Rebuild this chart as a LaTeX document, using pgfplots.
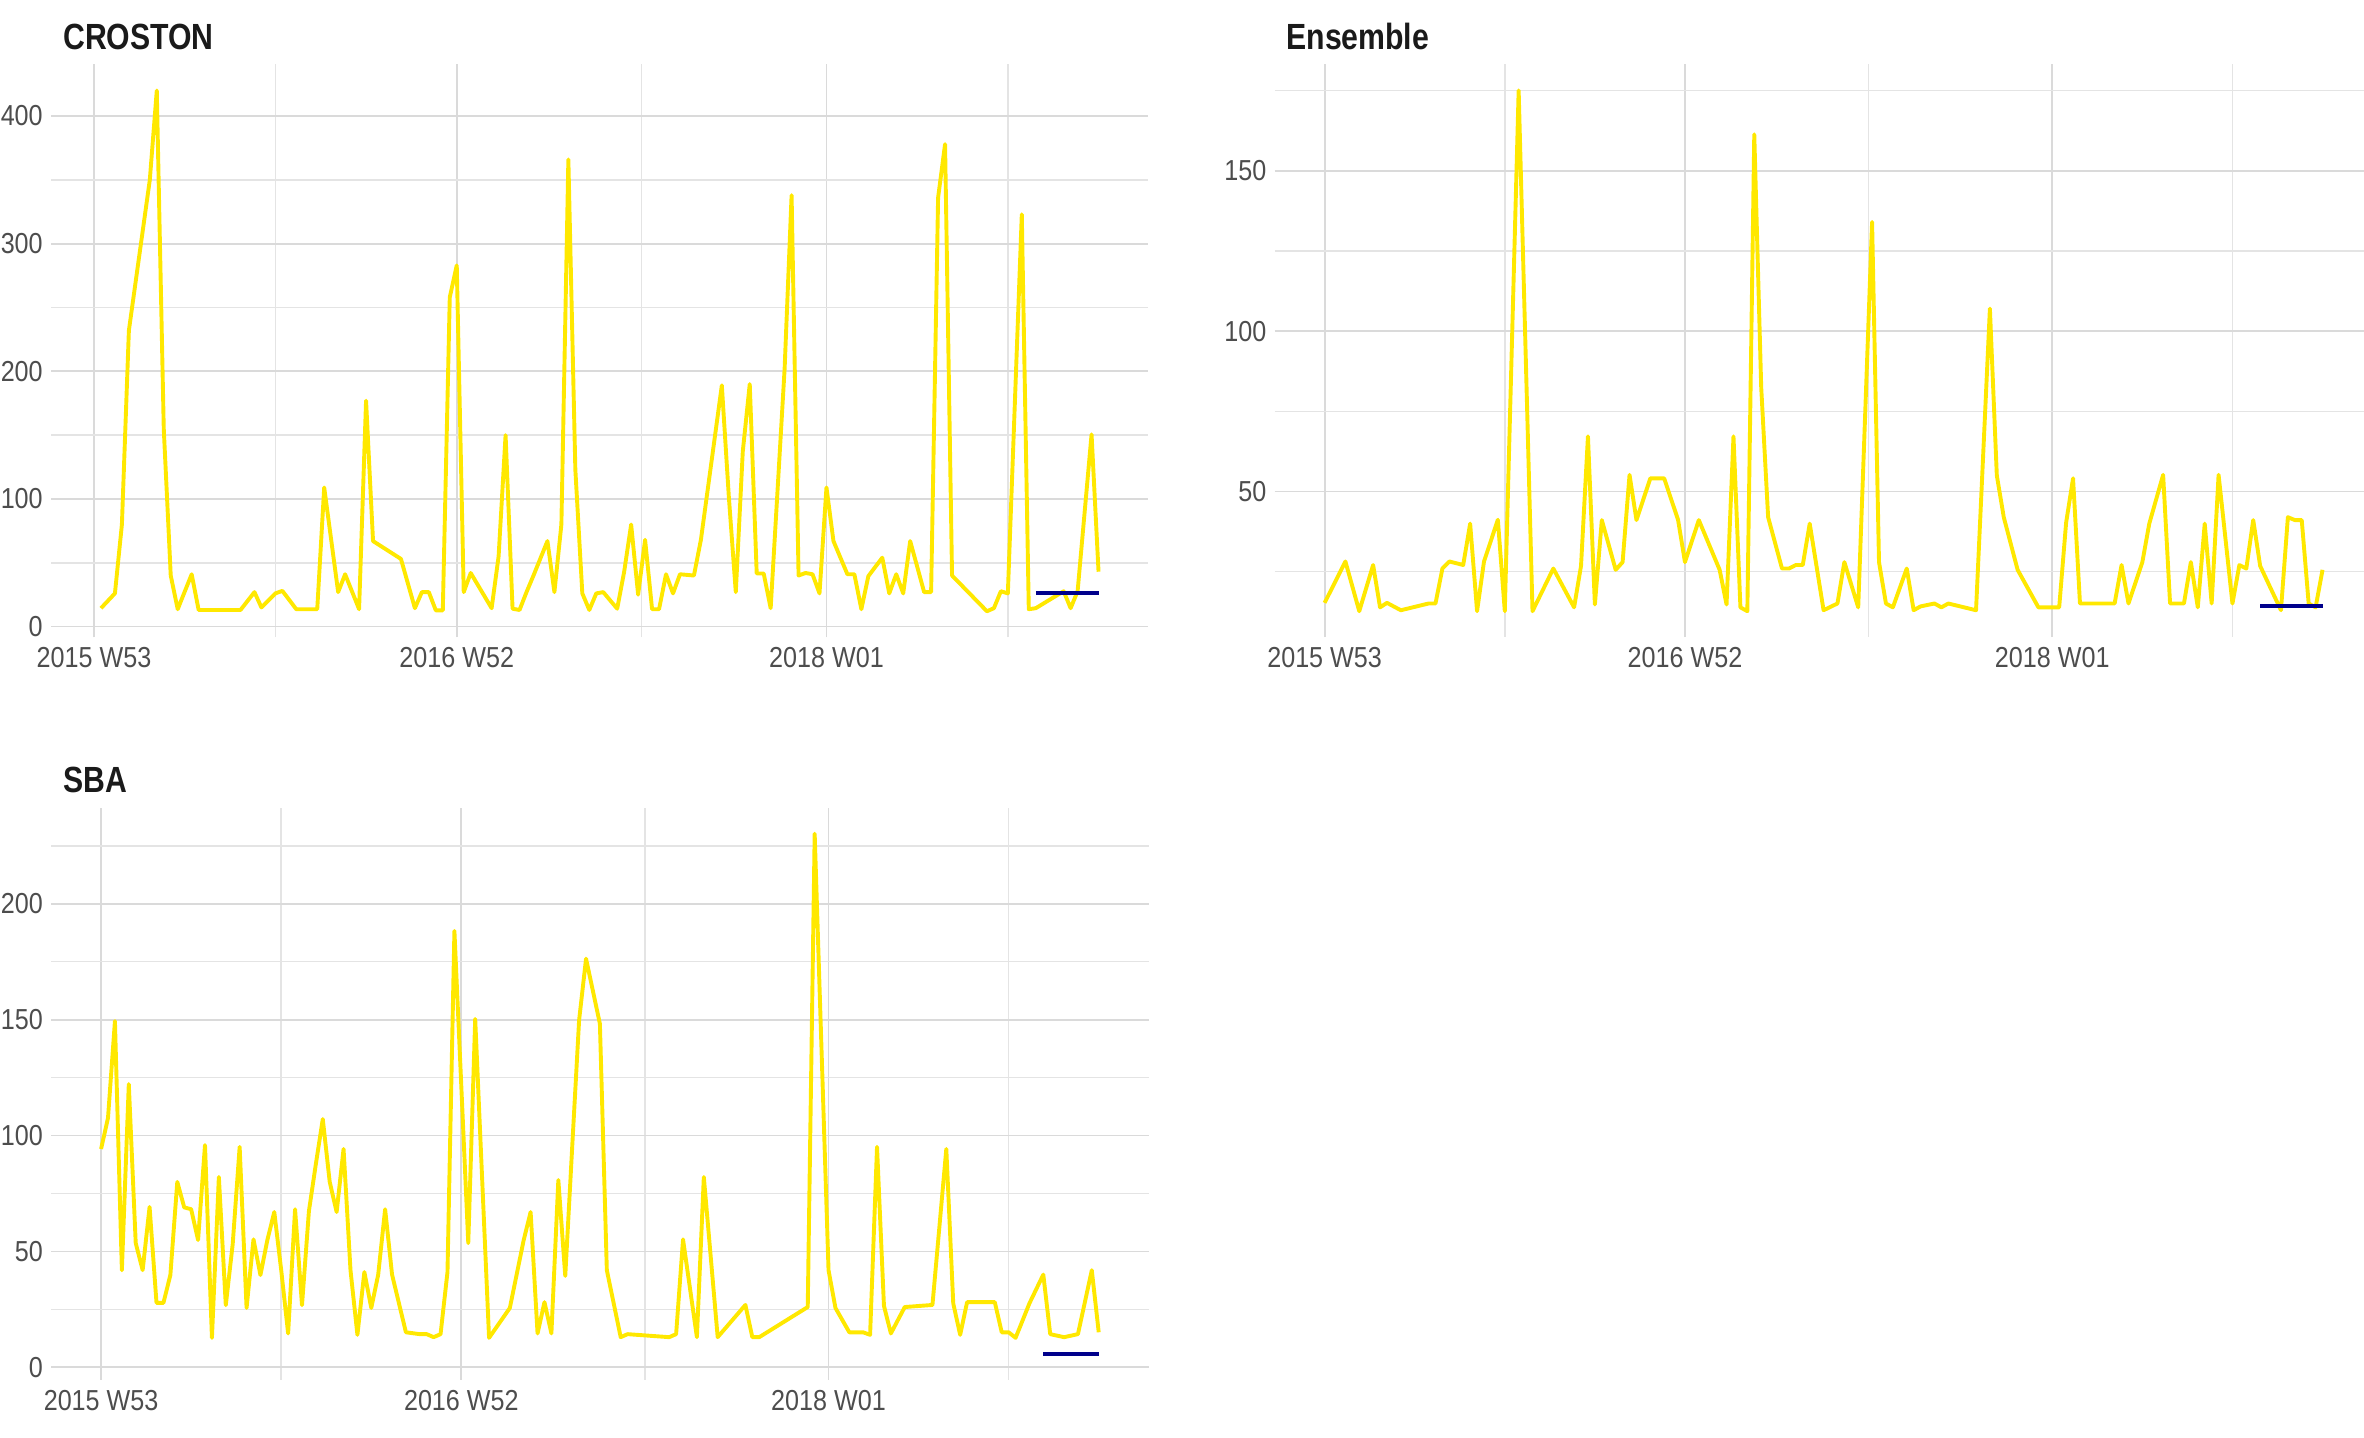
\documentclass[border=0pt]{standalone}
\usepackage{fontspec}
\setmainfont{Liberation Sans}[FakeStretch=0.87]
\newfontfamily\titlefont{Liberation Sans}[FakeStretch=0.83]
\usepackage{pgfplots}
\pgfplotsset{compat=1.18}
\definecolor{gridmaj}{RGB}{218,218,218}
\definecolor{gridmin}{RGB}{228,228,228}
\definecolor{ticktxt}{RGB}{77,77,77}
\definecolor{titletxt}{RGB}{26,26,26}
\definecolor{serieyellow}{RGB}{255,232,0}
\definecolor{fcblue}{RGB}{0,0,139}
\pgfplotsset{
  panel/.style={
    scale only axis,
    height=286.4pt,
    anchor=south west,
    axis line style={draw=none},
    tick style={draw=none},
    major tick length=0pt, minor tick length=0pt,
    grid=both,
    major grid style={draw=gridmaj, line width=0.9pt},
    minor grid style={draw=gridmin, line width=0.75pt},
    xtick={0,52,105},
    xticklabels={2015 W53,2016 W52,2018 W01},
    minor xtick={26,78.5,131},
    ticklabel style={font=\fontsize{14.45pt}{17pt}\selectfont, text=ticktxt, inner sep=0pt},
    xticklabel style={anchor=north, yshift=-5pt},
    yticklabel style={anchor=east, xshift=-4pt},
    /pgf/number format/assume math mode=true,
  },
  obs/.style={color=serieyellow, line width=1.95pt, line join=round, no marks},
  fc/.style={color=fcblue, line width=2pt, no marks},
}
\tikzset{
  ttl/.style={anchor=base west, inner sep=0pt, text=titletxt,
    font=\titlefont\fontsize{18.2pt}{22pt}\bfseries\selectfont},
}
\begin{document}
\begin{tikzpicture}
\path[use as bounding box] (0,0) rectangle (1182pt,-719pt);

% ---------------- CROSTON ----------------
\begin{axis}[panel, at={(25.55pt,-318.65pt)}, width=548.65pt,
  xmin=-6.15, xmax=151.15, ymin=-8.4, ymax=440.4,
  ytick={0,100,200,300,400}, minor ytick={50,150,250,350}]
\addplot[obs] coordinates {
(1,14.4)(3,26)(4,80)(5,232)(8,350)(9,420)(10,155)(11,40)(12,13.6)(14,41)(15,13)(21,13)(23,27)(24,15)(26,26)(27,28)(29,13.6)(32,13.6)(33,109)(35,27)(36,41)(38,13.6)(39,177)(40,67)(44,53)(46,14.4)(47,27)(48,27)(49,12.7)(50,12.7)(51,258)(52,283)(53,27)(54,42)(57,14.4)(58,55)(59,150)(60,14)(61,13)(62,27)(63,40)(65,67)(66,27)(67,80)(68,366)(69,123)(70,26)(71,13)(72,26)(73,27)(75,14)(76,43)(77,80)(78,25)(79,68)(80,13.6)(81,13.6)(82,41)(83,26)(84,41)(86,40)(87,68)(90,189)(91,102)(92,27)(93,137)(94,190)(95,41.6)(96,41.6)(97,14.4)(98,108)(99,202)(100,338)(101,40)(102,42)(103,41)(104,26)(105,109)(106,67)(108,41)(109,41)(110,13.6)(111,39.5)(113,54)(114,26)(115,41)(116,26)(117,67)(119,27)(120,27)(121,336)(122,378)(123,40)(128,12)(129,14.4)(130,27.7)(131,26)(133,323)(134,13.6)(135,14.4)(139,27.7)(140,14.4)(141,27.7)(143,150.6)(144,43)
};
\addplot[fc] coordinates {(135,26.5)(144,26.5)};
\end{axis}
\node[ttl] at (31.4pt,-24.65pt) {CROSTON};

% ---------------- Ensemble ----------------
\begin{axis}[panel, at={(637.35pt,-318.6pt)}, width=548.85pt,
  xmin=-7.2, xmax=151.2, ymin=4.6, ymax=183.1,
  ytick={50,100,150}, minor ytick={25,75,125,175}]
\addplot[obs] coordinates {
(0,15.3)(3,28.2)(5,12.7)(7,27.1)(8,13.9)(9,15.3)(11,13)(15,15.1)(16,15.1)(17,26)(18,28.2)(20,27.1)(21,40)(22,12.7)(23,28.2)(25,41.2)(26,12.7)(28,175)(30,12.7)(33,26)(36,13.9)(37,26.8)(38,67.2)(39,14.8)(40,41.1)(42,25.6)(43,28)(44,55.2)(45,41.1)(47,54.1)(49,54.1)(51,41.2)(52,28)(54,41.1)(57,25.6)(58,14.8)(59,67.2)(60,13.9)(61,12.7)(62,161.3)(63,82.5)(64,42)(66,26)(67,26)(68,27.1)(69,27.1)(70,40)(72,13)(74,15.1)(75,28)(77,13.9)(79,134)(80,28)(81,15.1)(82,13.9)(84,26)(85,13)(86,14.2)(88,15.1)(89,13.9)(90,15.1)(94,13)(96,107)(97,55)(98,42)(100,25.6)(103,13.9)(106,13.9)(107,40.3)(108,54.1)(109,15.1)(114,15.1)(115,27.1)(116,15.1)(118,28)(119,40)(121,55.2)(122,15.1)(124,15.1)(125,28)(126,13.9)(127,40)(128,15.1)(129,55.2)(131,15.1)(132,27.1)(133,26)(134,41.1)(135,26.8)(138,13)(139,42)(140,41.1)(141,41.1)(142,15.1)(143,13.9)(144,25.6)
};
\addplot[fc] coordinates {(135,14.4)(144,14.4)};
\end{axis}
\node[ttl] at (643pt,-24.65pt) {Ensemble};

% ---------------- SBA ----------------
\begin{axis}[panel, at={(25.6pt,-689.9pt)}, width=548.7pt, height=286pt,
  xmin=-7.2, xmax=151.2, ymin=-5.4, ymax=241.4,
  ytick={0,50,100,150,200}, minor ytick={25,75,125,175,225}]
\addplot[obs] coordinates {
(0,94.2)(1,107.6)(2,149.4)(3,41.9)(4,122.2)(5,53.6)(6,41.9)(7,69.2)(8,27.8)(9,27.8)(10,39.8)(11,80)(12,69)(13,68.2)(14,54.9)(15,95.9)(16,12.7)(17,82.1)(18,26.8)(19,53.2)(20,95.1)(21,25.6)(22,55.2)(23,39.8)(24,54.9)(25,67)(26,41.9)(27,14.6)(28,68.2)(29,26.8)(30,67.4)(31,87.7)(32,107.1)(33,80)(34,67)(35,94.2)(36,41.9)(37,14)(38,41.1)(39,25.6)(40,40)(41,68.2)(42,40)(44,15.1)(46,14.3)(47,14.3)(48,13)(49,14.3)(50,41.1)(51,188.3)(53,53.6)(54,150.3)(55,81.5)(56,12.7)(59,25.6)(61,54.9)(62,67)(63,14.6)(64,28.1)(65,14.6)(66,80.8)(67,39.4)(68,95)(69,149.8)(70,176.3)(72,148.2)(73,41.9)(75,13)(76,14.3)(82,13)(83,14.3)(84,55.2)(86,13)(87,82.1)(89,13)(93,26.9)(94,13)(95,13)(102,26)(103,230.2)(104,136)(105,41.9)(106,25.6)(108,15.1)(110,15.1)(111,14)(112,95.1)(113,26.5)(114,14.6)(116,26)(120,26.9)(121,60.5)(122,94.2)(123,27.6)(124,14)(125,28.1)(129,28.1)(130,15.1)(131,15.1)(132,12.7)(134,27.6)(136,40)(137,14.3)(139,13)(141,14.3)(143,41.9)(144,15.1)
};
\addplot[fc] coordinates {(136,5.8)(144,5.8)};
\end{axis}
\node[ttl] at (31.4pt,-396.3pt) {SBA};
\end{tikzpicture}
\end{document}
